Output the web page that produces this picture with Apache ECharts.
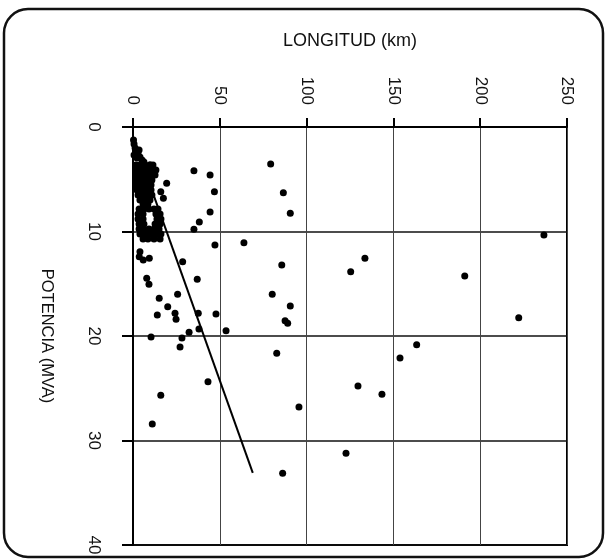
<!DOCTYPE html>
<html>
<head>
<meta charset="utf-8">
<script src="https://cdn.jsdelivr.net/npm/echarts@6/dist/echarts.min.js"></script>
<style>
  html, body { margin: 0; padding: 0; background: #fff; }
  #chart { width: 610px; height: 560px; }
</style>
</head>
<body>
<div id="chart"></div>
<script>
// ejes
const xTicks = [0, 50, 100, 150, 200, 250];
const yTicks = [0, 10, 20, 30, 40];

// puntos [longitud km, potencia MVA]
const nube = [
  [0.3, 1.24], [0.6, 1.63], [1.2, 2.01], [1.7, 2.3], [2.9, 2.58], [4.0, 2.87],
  [5.2, 3.16], [2.3, 2.97], [0.6, 2.68], [3.5, 2.2], [6.3, 3.35],
  [1.7, 3.64], [4.0, 3.64], [6.9, 3.64], [9.8, 3.64], [11.5, 3.64],
  [2.3, 4.11], [5.2, 4.11], [8.1, 4.11], [10.9, 4.11], [13.2, 4.11],
  [1.7, 4.59], [4.6, 4.59], [7.5, 4.59], [10.4, 4.59], [12.7, 4.59],
  [2.3, 5.07], [5.2, 5.07], [8.1, 5.07], [10.9, 5.07],
  [1.7, 5.55], [4.6, 5.55], [7.5, 5.55], [10.4, 5.55],
  [2.3, 6.03], [5.2, 6.03], [8.1, 6.03], [10.4, 6.03],
  [2.9, 6.51], [5.8, 6.51], [8.6, 6.51], [10.9, 6.51],
  [4.0, 6.99], [6.9, 6.99], [9.8, 6.99], [5.8, 7.37], [8.6, 7.37],
  [3.5, 7.85], [6.3, 7.85], [9.2, 7.85], [12.1, 7.85], [14.4, 7.85],
  [2.9, 8.33], [5.8, 8.33], [13.2, 8.33], [15.6, 8.33],
  [2.9, 8.8], [5.8, 8.8], [13.8, 8.8], [16.1, 8.8],
  [3.5, 9.28], [6.3, 9.28], [12.7, 9.28], [15.6, 9.28],
  [3.5, 9.76], [6.3, 9.76], [9.2, 9.76], [12.1, 9.76], [15.0, 9.76],
  [4.0, 10.24], [6.9, 10.24], [9.8, 10.24], [13.2, 10.24], [16.1, 10.24],
  [5.8, 10.72], [8.6, 10.72], [12.1, 10.72], [15.6, 10.72]
];

const cercanos = [
  [10.4, 20.1], [32.3, 19.65], [28.2, 20.2], [27.1, 21.05], [53.6, 19.5],
  [43.2, 24.37], [16.0, 25.67], [11.1, 28.42], [35.1, 9.79], [47.2, 11.29],
  [4.0, 11.93], [3.6, 12.41], [5.9, 12.73], [9.4, 12.56], [28.6, 12.89],
  [7.9, 14.48], [9.2, 15.05], [37.0, 14.57], [15.1, 16.39], [25.7, 16.01],
  [20.0, 17.2], [24.2, 17.83], [24.8, 18.4], [14.0, 17.99], [37.6, 17.83],
  [47.8, 17.89], [38.0, 19.33], [19.4, 5.39], [16.0, 6.19], [17.5, 6.82],
  [35.1, 4.18], [44.4, 4.59], [46.9, 6.19], [44.4, 8.13], [38.2, 9.09],
  [9.8, 3.64]
];

const lejanos = [
  [79.3, 3.54], [86.6, 6.29], [90.6, 8.26], [63.9, 11.07], [85.7, 13.21],
  [80.2, 16.01], [90.6, 17.13], [87.6, 18.54], [89.1, 18.78], [125.4, 13.85],
  [133.6, 12.56], [191.1, 14.26], [236.7, 10.33], [222.2, 18.25], [82.8, 21.65],
  [95.6, 26.8], [129.6, 24.78], [143.4, 25.58], [153.8, 22.1], [163.4, 20.83],
  [122.7, 31.22], [86.2, 33.14]
];

// recta de ajuste
const recta = [[0, 1.0], [69, 33.1]];

const chart = echarts.init(document.getElementById('chart'));
const fuente = 'Liberation Sans';
const punto = { color: '#000', opacity: 1 };

chart.setOption({
  animation: false,
  graphic: [{
    type: 'rect',
    shape: { x: 4, y: 9, width: 599, height: 548, r: 24 },
    style: { fill: 'none', stroke: '#111', lineWidth: 2.5 },
    z: -1
  }],
  grid: {
    left: 133, right: 43, top: 127, bottom: 15,
    show: true, borderColor: '#000', borderWidth: 2
  },
  xAxis: {
    type: 'value',
    position: 'top',
    min: xTicks[0], max: xTicks[xTicks.length - 1], interval: 50,
    name: 'LONGITUD (km)',
    nameLocation: 'middle',
    nameGap: 77,
    nameTextStyle: { color: '#111', fontFamily: fuente, fontSize: 18 },
    axisLine: { lineStyle: { color: '#000', width: 2 } },
    axisTick: { show: true, length: 9, lineStyle: { color: '#000', width: 2 } },
    axisLabel: { rotate: -90, margin: 22, color: '#111', fontFamily: fuente, fontSize: 17 },
    splitLine: { lineStyle: { color: '#444', width: 1 } }
  },
  yAxis: {
    type: 'value',
    inverse: true,
    min: yTicks[0], max: yTicks[yTicks.length - 1], interval: 10,
    name: 'POTENCIA (MVA)',
    nameLocation: 'middle',
    nameRotate: -90,
    nameGap: 78,
    nameTextStyle: { color: '#111', fontFamily: fuente, fontSize: 16.5 },
    axisLine: { lineStyle: { color: '#000', width: 2 } },
    axisTick: { show: true, length: 11, lineStyle: { color: '#000', width: 2 } },
    axisLabel: { rotate: -90, margin: 31, color: '#111', fontFamily: fuente, fontSize: 17 },
    splitLine: { lineStyle: { color: '#111', width: 1.5 } }
  },
  series: [
    { type: 'scatter', data: nube, symbolSize: 7, itemStyle: punto },
    { type: 'scatter', data: cercanos, symbolSize: 7, itemStyle: punto },
    { type: 'scatter', data: lejanos, symbolSize: 7, itemStyle: punto },
    {
      type: 'line', data: recta, showSymbol: false,
      lineStyle: { color: '#000', width: 2 }
    }
  ]
});
</script>
</body>
</html>
